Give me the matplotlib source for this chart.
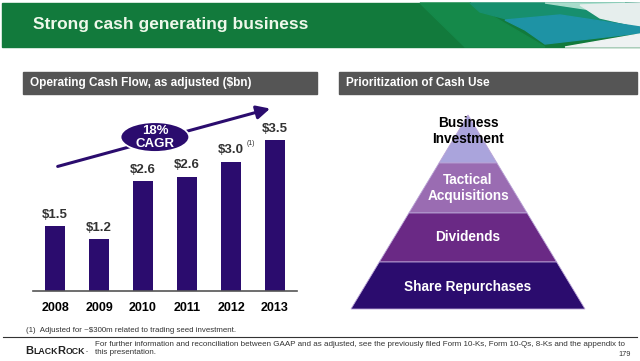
import matplotlib
matplotlib.use("Agg")
import matplotlib.pyplot as plt
from matplotlib.patches import Rectangle, Polygon, Ellipse
from matplotlib.offsetbox import TextArea, HPacker, AnnotationBbox

plt.rcParams['font.family'] = ['Liberation Sans', 'DejaVu Sans']

# data
years = ['2008', '2009', '2010', '2011', '2012', '2013']
cash_flow = [1.5, 1.2, 2.55, 2.65, 3.0, 3.5]
cash_labels = ['$1.5', '$1.2', '$2.6', '$2.6', '$3.0', '$3.5']
cagr_text = '18%\nCAGR'
layers = ['Business\nInvestment', 'Tactical\nAcquisitions', 'Dividends', 'Share Repurchases']
layer_colors = ['#aaa4dc', '#9a6cb2', '#6a2985', '#2b0c6e']
layer_text_colors = ['black', 'white', 'white', 'white']

BAR = '#2b0c6e'

fig = plt.figure(figsize=(6.4, 3.61), dpi=100)
fig.patch.set_facecolor('white')

# overlay in pixel coords
bg = fig.add_axes([0, 0, 1, 1])
bg.set_xlim(0, 640)
bg.set_ylim(361, 0)
bg.axis('off')

# header band with swoosh on the right
bg.add_patch(Rectangle((2, 3), 638, 44, color='#127a3c', zorder=1))
bg.add_patch(Polygon([(420, 3), (470, 3), (545, 47), (465, 47)], color='#15894a', zorder=2))
bg.add_patch(Polygon([(470, 3), (640, 3), (640, 25), (560, 15), (510, 20), (480, 12)],
                     color='#178f6e', zorder=3))
bg.add_patch(Polygon([(545, 3), (625, 3), (585, 9)], color='#a8dccb', zorder=4))
bg.add_patch(Polygon([(580, 5), (640, 3), (640, 27), (600, 18)], color='#e6eeed', zorder=4))
bg.add_patch(Polygon([(505, 20), (560, 15), (640, 27), (640, 33), (545, 44), (525, 30)],
                     color='#1e93a5', zorder=5))
bg.add_patch(Polygon([(565, 47), (640, 34), (640, 47)], color='#eef2f2', zorder=5))
bg.text(33, 25, 'Strong cash generating business', color='#eef8ea', fontsize=12.5,
        fontweight='bold', va='center', ha='left', zorder=6)

# panel headers
bg.add_patch(Rectangle((23, 72), 294, 22, color='#555555', zorder=1))
bg.text(30, 83, 'Operating Cash Flow, as adjusted ($bn)', color='white', fontsize=8.5,
        fontweight='bold', va='center', ha='left')
bg.add_patch(Rectangle((339, 72), 298, 22, color='#555555', zorder=1))
bg.text(346, 83, 'Prioritization of Cash Use', color='white', fontsize=8.5,
        fontweight='bold', va='center', ha='left')

# pyramid
apex_x, apex_y, base_y, half_base = 468, 115, 309, 117
bounds = [apex_y, 163, 213, 262, base_y]
for i, name in enumerate(layers):
    y0, y1 = bounds[i], bounds[i + 1]
    w0 = half_base * (y0 - apex_y) / (base_y - apex_y)
    w1 = half_base * (y1 - apex_y) / (base_y - apex_y)
    bg.add_patch(Polygon([(apex_x - w0, y0), (apex_x + w0, y0), (apex_x + w1, y1), (apex_x - w1, y1)],
                         facecolor=layer_colors[i], edgecolor='#b9a3d6', linewidth=0.6, zorder=2))
ty = [131, 188, 237, 287]
for name, c, y in zip(layers, layer_text_colors, ty):
    bg.text(apex_x, y, name, color=c, fontsize=9.8, fontweight='bold', ha='center', va='center',
            linespacing=1.15, zorder=3)

# bar chart
ax = fig.add_axes([33 / 640, 1 - 291 / 361, 264 / 640, 191 / 361])
x = range(len(years))
ax.bar(x, cash_flow, width=0.46, color=BAR, zorder=2)
ax.set_xlim(-0.5, 5.5)
ax.set_ylim(0, 191 / 43)
ax.set_xticks(list(x))
ax.set_xticklabels(years, fontsize=9, fontweight='bold')
ax.tick_params(axis='x', length=0, pad=8)
ax.set_yticks([])
for s in ['top', 'right', 'left']:
    ax.spines[s].set_visible(False)
ax.spines['bottom'].set_color('#555555')
ax.spines['bottom'].set_linewidth(1.2)
ax.patch.set_alpha(0)
for i, (v, lab) in enumerate(zip(cash_flow, cash_labels)):
    ax.annotate(lab, (i, v), xytext=(0, 4), textcoords='offset points', ha='center', va='bottom',
                fontsize=9.5, fontweight='bold', color='#333333')
ax.annotate('(1)', (4, cash_flow[4]), xytext=(11, 11), textcoords='offset points', ha='left',
            va='bottom', fontsize=5, color='#333333')

# CAGR arrow and bubble
ax.annotate('', xy=(4.95, 4.26), xytext=(0.0, 2.88),
            arrowprops=dict(arrowstyle='-|>,head_length=0.8,head_width=0.4', color=BAR, lw=2.2),
            annotation_clip=False)
ax.add_patch(Ellipse((2.27, 3.58), 1.56, 0.69, facecolor=BAR, edgecolor='white', linewidth=1.2,
                     zorder=5, clip_on=False))
ax.text(2.27, 3.58, cagr_text, color='white', fontsize=9.5, fontweight='bold', ha='center',
        va='center', zorder=6, linespacing=1.1)

# footnote and footer
bg.text(26, 330, '(1)  Adjusted for ~$300m related to trading seed investment.', fontsize=5.7,
        color='#333333', va='center', ha='left')
bg.plot([3, 637], [337, 337], color='#333333', lw=0.8)
bg.text(95, 344, 'For further information and reconciliation between GAAP and as adjusted, see the previously filed Form 10-Ks, Form 10-Qs, 8-Ks and the appendix to',
        fontsize=5.8, color='#333333', va='center', ha='left')
bg.text(95, 353, 'this presentation.', fontsize=5.8, color='#333333', va='center', ha='left')
bg.text(631, 354, '179', fontsize=5.3, color='#333333', va='center', ha='right')

parts = [('B', 8), ('LACK', 6.3), ('R', 8), ('OCK', 6.3), ('\u00b7', 5)]
boxes = [TextArea(t, textprops=dict(fontsize=s, fontweight='bold', color='#222222')) for t, s in parts]
logo = HPacker(children=boxes, align='baseline', pad=0, sep=0)
bg.add_artist(AnnotationBbox(logo, (25, 351), box_alignment=(0, 0.5), frameon=False))

plt.savefig('out.png', dpi=100, facecolor='white')
